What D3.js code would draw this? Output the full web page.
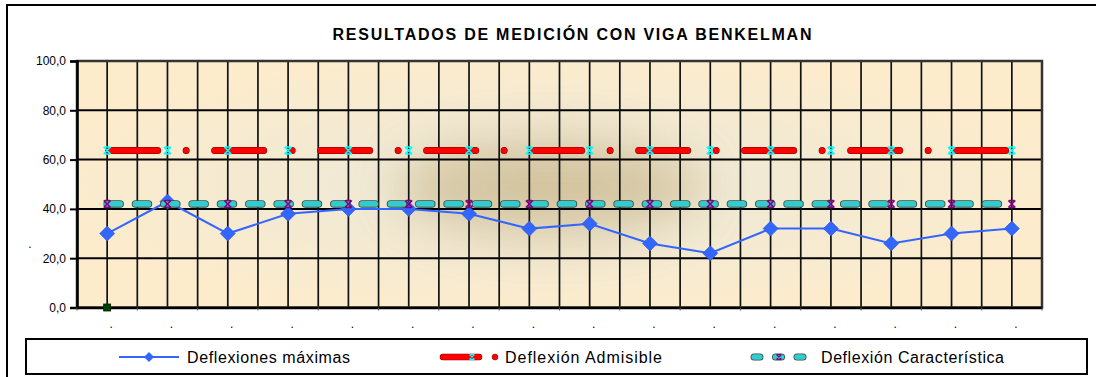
<!DOCTYPE html>
<html>
<head>
<meta charset="utf-8">
<script src="https://cdn.jsdelivr.net/npm/d3@7"></script>
<style>
  body { margin: 0; background: #fff; }
  svg { display: block; font-family: "Liberation Sans", Arial, sans-serif; }
</style>
</head>
<body>
<svg id="chart" width="1096" height="377"></svg>
<script>
// Station labels along the bottom axis
const categoryLabels = [".", ".", ".", ".", ".", ".", ".", ".", ".", ".", ".", ".", ".", ".", ".", "."];

// Measured maximum deflections (0.01 mm)
const deflexionesMaximas = [30, 43, 30, 38, 40, 40, 38, 32, 34, 26, 22, 32, 32, 26, 30, 32];

// Admissible deflection per station
const deflexionAdmisible = [63.7, 63.7, 63.7, 63.7, 63.7, 63.7, 63.7, 63.7, 63.7, 63.7, 63.7, 63.7, 63.7, 63.7, 63.7, 63.7];

// Characteristic deflection per station
const deflexionCaracteristica = [42, 42, 42, 42, 42, 42, 42, 42, 42, 42, 42, 42, 42, 42, 42, 42];

// Reference point at the first station
const puntoBase = [0];

// Value-axis ticks
const yTicks = [0, 20, 40, 60, 80, 100];

const titulo = "RESULTADOS DE MEDICIÓN CON VIGA BENKELMAN";
const legendNames = ["Deflexiones máximas", "Deflexión Admisible", "Deflexión Característica"];

const svg = d3.select("#chart");
const plot = { left: 77, right: 1042, top: 61, bottom: 307.5 };

const x = d3.scaleBand().domain(d3.range(categoryLabels.length)).range([plot.left, plot.right]);
const cx = i => x(i) + x.bandwidth() / 2;
const y = d3.scaleLinear().domain([0, 100]).range([plot.bottom, plot.top]);

const defs = svg.append("defs");
const bg = defs.append("radialGradient").attr("id", "bgGrad")
  .attr("cx", 0.49).attr("cy", 0.5).attr("r", 0.55);
bg.append("stop").attr("offset", 0).attr("stop-color", "#E6DBBE");
bg.append("stop").attr("offset", 0.35).attr("stop-color", "#F0E9D4");
bg.append("stop").attr("offset", 1).attr("stop-color", "#FDECCC");
defs.append("filter").attr("id", "soft").attr("x", -1).attr("y", -1).attr("width", 3).attr("height", 3)
  .append("feGaussianBlur").attr("stdDeviation", 24);
defs.append("clipPath").attr("id", "plotClip").append("rect")
  .attr("x", plot.left).attr("y", plot.top)
  .attr("width", plot.right - plot.left).attr("height", plot.bottom - plot.top);

// Outer chart frame
svg.append("path").attr("d", "M7,377V5H1096")
  .attr("fill", "none").attr("stroke", "#000").attr("stroke-width", 2);

// Title
svg.append("text")
  .attr("x", 572).attr("y", 40)
  .attr("text-anchor", "middle")
  .attr("font-weight", "bold").attr("font-size", 16)
  .attr("textLength", 479).attr("lengthAdjust", "spacing")
  .attr("fill", "#000")
  .text(titulo);

// Plot area background
svg.append("rect")
  .attr("x", plot.left).attr("y", plot.top)
  .attr("width", plot.right - plot.left).attr("height", plot.bottom - plot.top)
  .attr("fill", "url(#bgGrad)");
svg.append("g").attr("clip-path", "url(#plotClip)")
  .append("ellipse")
  .attr("cx", 550).attr("cy", 188).attr("rx", 150).attr("ry", 50)
  .attr("fill", "#C8B68C").attr("opacity", 0.6).attr("filter", "url(#soft)");

// Horizontal gridlines
svg.append("g")
  .selectAll("line").data(yTicks.slice(1)).join("line")
  .attr("x1", plot.left).attr("x2", plot.right)
  .attr("y1", d => y(d)).attr("y2", d => y(d))
  .attr("stroke", "#000").attr("stroke-width", 2);

// Vertical gridlines: category borders and centres
const borders = d3.range(1, categoryLabels.length).map(i => x(i));
const centres = d3.range(categoryLabels.length).map(cx);
svg.append("g")
  .selectAll("line").data(borders.concat(centres)).join("line")
  .attr("x1", d => d).attr("x2", d => d)
  .attr("y1", plot.top).attr("y2", plot.bottom)
  .attr("stroke", "#111").attr("stroke-width", 1.7);

// Plot border
svg.append("rect")
  .attr("x", plot.left).attr("y", plot.top)
  .attr("width", plot.right - plot.left).attr("height", plot.bottom - plot.top)
  .attr("fill", "none").attr("stroke", "#333").attr("stroke-width", 2.5);

// Value axis
const yAxis = svg.append("g").attr("transform", `translate(${plot.left},0)`)
  .call(d3.axisLeft(y).tickValues(yTicks).tickSize(7).tickPadding(4)
    .tickFormat(d => d.toFixed(1).replace(".", ",")));
yAxis.select(".domain").attr("stroke", "#000").attr("stroke-width", 2.5);
yAxis.selectAll(".tick line").attr("stroke", "#000").attr("stroke-width", 2);
yAxis.selectAll(".tick text").attr("font-size", 12).attr("fill", "#000")
  .attr("font-family", "Liberation Sans, Arial, sans-serif");

// Category axis
const xAxis = svg.append("g").attr("transform", `translate(0,${plot.bottom})`)
  .call(d3.axisBottom(x).tickSize(0).tickPadding(12).tickFormat(i => categoryLabels[i]));
xAxis.select(".domain").attr("stroke", "#000").attr("stroke-width", 2.5);
xAxis.selectAll(".tick text").attr("font-size", 12).attr("fill", "#000").attr("dx", 4)
  .attr("font-family", "Liberation Sans, Arial, sans-serif");
svg.append("g")
  .selectAll("line").data(d3.range(categoryLabels.length + 1).map(i => plot.left + i * x.step())).join("line")
  .attr("x1", d => d).attr("x2", d => d)
  .attr("y1", plot.bottom).attr("y2", plot.bottom + 3)
  .attr("stroke", "#555").attr("stroke-width", 1);

// Value axis title
svg.append("text").attr("x", 30).attr("y", 248).attr("text-anchor", "middle")
  .attr("font-size", 12).attr("fill", "#000").text(".");

const diamond = r => `M0,${-r}L${r},0L0,${r}L${-r},0Z`;
const xMark = s => `M${-s},${-s}L${s},${s}M${s},${-s}L${-s},${s}M${-s * 0.75},${-s}H${s * 0.75}M${-s * 0.75},${s}H${s * 0.75}`;

const line = d3.line().x((d, i) => cx(i)).y(d => y(d));

// Series 1: Deflexiones máximas
svg.append("path").datum(deflexionesMaximas)
  .attr("d", line).attr("fill", "none")
  .attr("stroke", "#3366FF").attr("stroke-width", 2);
svg.append("g").selectAll("path").data(deflexionesMaximas).join("path")
  .attr("transform", (d, i) => `translate(${cx(i)},${y(d)})`)
  .attr("d", diamond(7.5))
  .attr("fill", "#3366FF").attr("stroke", "#2a52cc").attr("stroke-width", 0.6);

// Series 2: Deflexión Admisible (dash-dot)
svg.append("path").datum(deflexionAdmisible)
  .attr("d", line).attr("fill", "none")
  .attr("stroke", "#7a0000").attr("stroke-width", 7).attr("stroke-linecap", "round")
  .attr("stroke-dasharray", "49,28.5,0,28.5").attr("stroke-dashoffset", -1.5);
svg.append("path").datum(deflexionAdmisible)
  .attr("d", line).attr("fill", "none")
  .attr("stroke", "#FF0000").attr("stroke-width", 6).attr("stroke-linecap", "round")
  .attr("stroke-dasharray", "49,28.5,0,28.5").attr("stroke-dashoffset", -1.5);
svg.append("g").selectAll("path").data(deflexionAdmisible).join("path")
  .attr("transform", (d, i) => `translate(${cx(i)},${y(d)})`)
  .attr("d", xMark(3.5))
  .attr("fill", "none").attr("stroke", "#00FFFF").attr("stroke-width", 1.6);

// Series 3: Deflexión Característica (short dashes)
svg.append("path").datum(deflexionCaracteristica)
  .attr("d", line).attr("fill", "none")
  .attr("stroke", "#3c4a4a").attr("stroke-width", 7.5).attr("stroke-linecap", "round")
  .attr("stroke-dasharray", "13,15.33");
svg.append("path").datum(deflexionCaracteristica)
  .attr("d", line).attr("fill", "none")
  .attr("stroke", "#33CCCC").attr("stroke-width", 5.8).attr("stroke-linecap", "round")
  .attr("stroke-dasharray", "13,15.33");
svg.append("g").selectAll("path").data(deflexionCaracteristica).join("path")
  .attr("transform", (d, i) => `translate(${cx(i)},${y(d)})`)
  .attr("d", xMark(3.5))
  .attr("fill", "none").attr("stroke", "#800080").attr("stroke-width", 1.6);

// Reference point
svg.append("g").selectAll("rect").data(puntoBase).join("rect")
  .attr("x", (d, i) => cx(i) - 3.5).attr("y", d => y(d) - 3.5)
  .attr("width", 7).attr("height", 7)
  .attr("fill", "#004000").attr("stroke", "#002000").attr("stroke-width", 0.8);

// Legend
const legend = svg.append("g");
legend.append("rect").attr("x", 26).attr("y", 339).attr("width", 1061).attr("height", 35)
  .attr("fill", "#fff").attr("stroke", "#000").attr("stroke-width", 2);
const ly = 357;

legend.append("line").attr("x1", 119).attr("x2", 179).attr("y1", ly).attr("y2", ly)
  .attr("stroke", "#3366FF").attr("stroke-width", 2);
legend.append("path").attr("transform", `translate(149,${ly})`).attr("d", diamond(5))
  .attr("fill", "#3366FF");

legend.append("line").attr("x1", 443).attr("x2", 479).attr("y1", ly).attr("y2", ly)
  .attr("stroke", "#7a0000").attr("stroke-width", 6.5).attr("stroke-linecap", "round");
legend.append("line").attr("x1", 443).attr("x2", 479).attr("y1", ly).attr("y2", ly)
  .attr("stroke", "#FF0000").attr("stroke-width", 5.5).attr("stroke-linecap", "round");
legend.append("circle").attr("cx", 495).attr("cy", ly).attr("r", 3)
  .attr("fill", "#FF0000").attr("stroke", "#7a0000").attr("stroke-width", 0.5);
legend.append("path").attr("transform", `translate(472,${ly})`).attr("d", xMark(2.5))
  .attr("fill", "none").attr("stroke", "#00FFFF").attr("stroke-width", 1.2);

legend.append("path").attr("d", `M754,${ly}H804`).attr("fill", "none")
  .attr("stroke", "#3c4a4a").attr("stroke-width", 7).attr("stroke-linecap", "round")
  .attr("stroke-dasharray", "6,15.5");
legend.append("path").attr("d", `M754,${ly}H804`).attr("fill", "none")
  .attr("stroke", "#33CCCC").attr("stroke-width", 5.3).attr("stroke-linecap", "round")
  .attr("stroke-dasharray", "6,15.5");
legend.append("path").attr("transform", `translate(779,${ly})`).attr("d", xMark(2.5))
  .attr("fill", "none").attr("stroke", "#800080").attr("stroke-width", 1.2);

const legendText = [
  { x: 187, w: 163 },
  { x: 505, w: 157 },
  { x: 821, w: 183 }
];
legend.selectAll("text.lt").data(legendNames).join("text")
  .attr("class", "lt")
  .attr("x", (d, i) => legendText[i].x).attr("y", 363)
  .attr("font-size", 16).attr("fill", "#000")
  .attr("textLength", (d, i) => legendText[i].w).attr("lengthAdjust", "spacing")
  .text(d => d);
</script>
</body>
</html>
